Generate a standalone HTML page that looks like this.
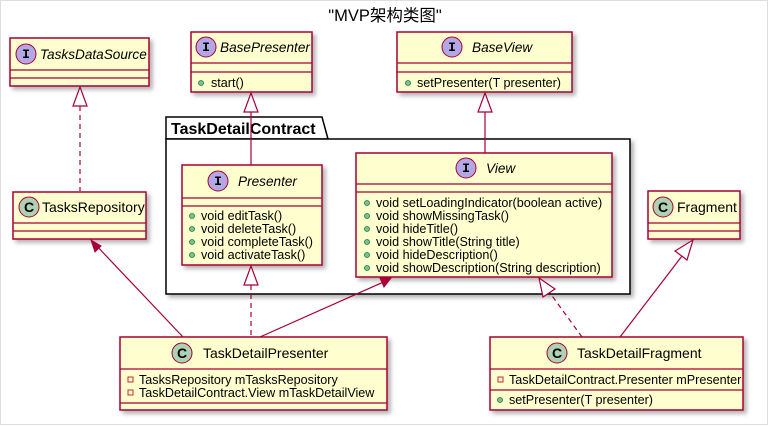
<!DOCTYPE html>
<html><head><meta charset="utf-8"><style>
html,body{margin:0;padding:0;background:#fff}
svg{display:block}
text{font-family:"Liberation Sans","Noto Sans CJK SC",sans-serif;font-size:12.6px;fill:#000}
.b{fill:#FEFECE;stroke:#A80036;stroke-width:1.5}
.l{stroke:#A80036;stroke-width:1.2;fill:none}
.d{stroke:#A80036;stroke-width:1.2;fill:none;stroke-dasharray:5,4}
.ci{fill:#B4A7E5;stroke:#A80036;stroke-width:1}
.cc{fill:#ADD1B2;stroke:#A80036;stroke-width:1}
.g{fill:#84BE84;stroke:#038048;stroke-width:0.8}
.it{font-style:italic;font-size:13.6px}
.h{font-size:14px}
.ii{font-weight:bold;font-size:13px;font-family:'Liberation Mono',monospace}
</style></head><body>
<svg width="771" height="426" viewBox="0 0 771 426">
<defs>
<filter id="sh" x="-10%" y="-10%" width="130%" height="130%"><feDropShadow dx="3" dy="3" stdDeviation="2" flood-color="#000" flood-opacity="0.3"/></filter>
</defs>
<rect x="0.5" y="0.5" width="767" height="424" fill="#fff" stroke="#ddd"/>
<text x="385" y="21" text-anchor="middle" style="font-size:16.5px">"MVP架构类图"</text>

<!-- package -->
<path d="M166 139 L166 117 L322 117 L328 139 Z" fill="#fff" stroke="#000" stroke-width="1.5"/>
<rect x="166" y="139" width="464" height="155" fill="#fff" stroke="#000" stroke-width="1.5" filter="url(#sh)"/>
<text x="171" y="134" style="font-size:16px;font-weight:bold">TaskDetailContract</text>

<!-- TasksDataSource -->
<rect class="b" x="10" y="38" width="139" height="48" filter="url(#sh)"/>
<line class="l" x1="10" y1="70" x2="149" y2="70"/><line class="l" x1="10" y1="78" x2="149" y2="78"/>
<circle class="ci" cx="26" cy="54" r="10"/><text class="ii" x="26" y="58" text-anchor="middle">I</text>
<text class="it" x="40" y="59">TasksDataSource</text>

<!-- BasePresenter -->
<rect class="b" x="191" y="32" width="121" height="60" filter="url(#sh)"/>
<line class="l" x1="191" y1="63" x2="312" y2="63"/><line class="l" x1="191" y1="72" x2="312" y2="72"/>
<circle class="ci" cx="206" cy="47" r="10"/><text class="ii" x="206" y="51" text-anchor="middle">I</text>
<text class="it" x="220" y="52">BasePresenter</text>
<circle class="g" cx="201" cy="83" r="2.5"/><text x="211" y="87">start()</text>

<!-- BaseView -->
<rect class="b" x="397" y="32" width="175" height="60" filter="url(#sh)"/>
<line class="l" x1="397" y1="63" x2="572" y2="63"/><line class="l" x1="397" y1="72" x2="572" y2="72"/>
<circle class="ci" cx="452" cy="47" r="10"/><text class="ii" x="452" y="51" text-anchor="middle">I</text>
<text class="it" x="472" y="52">BaseView</text>
<circle class="g" cx="408" cy="83" r="2.5"/><text x="417" y="87">setPresenter(T presenter)</text>

<!-- Presenter -->
<rect class="b" x="182" y="165" width="140" height="100" filter="url(#sh)"/>
<line class="l" x1="182" y1="198" x2="322" y2="198"/><line class="l" x1="182" y1="206" x2="322" y2="206"/>
<circle class="ci" cx="218" cy="181" r="10"/><text class="ii" x="218" y="185" text-anchor="middle">I</text>
<text class="it" x="238" y="186">Presenter</text>
<g><circle class="g" cx="192" cy="216" r="2.5"/><text x="201" y="220">void editTask()</text>
<circle class="g" cx="192" cy="229" r="2.5"/><text x="201" y="233">void deleteTask()</text>
<circle class="g" cx="192" cy="242" r="2.5"/><text x="201" y="246">void completeTask()</text>
<circle class="g" cx="192" cy="255" r="2.5"/><text x="201" y="259">void activateTask()</text></g>

<!-- View -->
<rect class="b" x="356" y="153" width="256" height="124" filter="url(#sh)"/>
<line class="l" x1="356" y1="184" x2="612" y2="184"/><line class="l" x1="356" y1="192" x2="612" y2="192"/>
<circle class="ci" cx="466" cy="168" r="10"/><text class="ii" x="466" y="172" text-anchor="middle">I</text>
<text class="it" x="486" y="173">View</text>
<g><circle class="g" cx="367" cy="203" r="2.5"/><text x="376" y="207">void setLoadingIndicator(boolean active)</text>
<circle class="g" cx="367" cy="216" r="2.5"/><text x="376" y="220">void showMissingTask()</text>
<circle class="g" cx="367" cy="229" r="2.5"/><text x="376" y="233">void hideTitle()</text>
<circle class="g" cx="367" cy="242" r="2.5"/><text x="376" y="246">void showTitle(String title)</text>
<circle class="g" cx="367" cy="255" r="2.5"/><text x="376" y="259">void hideDescription()</text>
<circle class="g" cx="367" cy="268" r="2.5"/><text x="376" y="272">void showDescription(String description)</text></g>

<!-- TasksRepository -->
<rect class="b" x="13" y="192" width="133" height="47" filter="url(#sh)"/>
<line class="l" x1="13" y1="223" x2="146" y2="223"/><line class="l" x1="13" y1="231" x2="146" y2="231"/>
<circle class="cc" cx="29" cy="207" r="10"/><text x="29" y="212" text-anchor="middle" style="font-weight:bold;font-size:14px">C</text>
<text class="h" x="42" y="212">TasksRepository</text>

<!-- Fragment -->
<rect class="b" x="648" y="191" width="92" height="48" filter="url(#sh)"/>
<line class="l" x1="648" y1="223" x2="740" y2="223"/><line class="l" x1="648" y1="231" x2="740" y2="231"/>
<circle class="cc" cx="663" cy="207" r="10"/><text x="663" y="212" text-anchor="middle" style="font-weight:bold;font-size:14px">C</text>
<text class="h" x="677" y="212">Fragment</text>

<!-- TaskDetailPresenter -->
<rect class="b" x="120" y="337" width="267" height="73" filter="url(#sh)"/>
<line class="l" x1="120" y1="369" x2="387" y2="369"/><line class="l" x1="120" y1="403" x2="387" y2="403"/>
<circle class="cc" cx="182" cy="353" r="10"/><text x="182" y="358" text-anchor="middle" style="font-weight:bold;font-size:14px">C</text>
<text class="h" x="203" y="358">TaskDetailPresenter</text>
<rect x="128" y="377" width="5" height="5" fill="none" stroke="#C82930"/><text x="139" y="384">TasksRepository mTasksRepository</text>
<rect x="128" y="390" width="5" height="5" fill="none" stroke="#C82930"/><text x="139" y="397">TaskDetailContract.View mTaskDetailView</text>

<!-- TaskDetailFragment -->
<rect class="b" x="490" y="337" width="253" height="73" filter="url(#sh)"/>
<line class="l" x1="490" y1="369" x2="743" y2="369"/><line class="l" x1="490" y1="390" x2="743" y2="390"/>
<circle class="cc" cx="557" cy="353" r="10"/><text x="557" y="358" text-anchor="middle" style="font-weight:bold;font-size:14px">C</text>
<text class="h" x="577" y="358">TaskDetailFragment</text>
<rect x="498" y="377" width="5" height="5" fill="none" stroke="#C82930"/><text x="509" y="384">TaskDetailContract.Presenter mPresenter</text>
<circle class="g" cx="500" cy="400" r="2.5"/><text x="509" y="404">setPresenter(T presenter)</text>

<!-- connectors -->
<line class="d" x1="80" y1="106" x2="80" y2="191"/>
<polygon points="80,87 73,106 87,106" fill="#fff" stroke="#A80036" stroke-width="1.2"/>

<line class="l" x1="251" y1="112" x2="251" y2="165"/>
<polygon points="251,93 244,112 258,112" fill="#fff" stroke="#A80036" stroke-width="1.2"/>

<line class="l" x1="485" y1="112" x2="485" y2="153"/>
<polygon points="485,93 478,112 492,112" fill="#fff" stroke="#A80036" stroke-width="1.2"/>

<line class="d" x1="251" y1="285" x2="251" y2="337"/>
<polygon points="251,266 244,285 258,285" fill="#fff" stroke="#A80036" stroke-width="1.2"/>

<line class="l" x1="183" y1="337" x2="93" y2="242"/>
<polygon points="91,240 101,246 95,252" fill="#A80036" stroke="#A80036"/>

<line class="l" x1="260" y1="337" x2="388" y2="280"/>
<polygon points="391,278 380,278 384,287" fill="#A80036" stroke="#A80036"/>

<line class="d" x1="582" y1="337" x2="550" y2="293"/>
<polygon points="539,278 543,297 555,289" fill="#fff" stroke="#A80036" stroke-width="1.2"/>

<line class="l" x1="620" y1="337" x2="682" y2="256"/>
<polygon points="693,240 675,251 687,260" fill="#fff" stroke="#A80036" stroke-width="1.2"/>
</svg>
</body></html>
